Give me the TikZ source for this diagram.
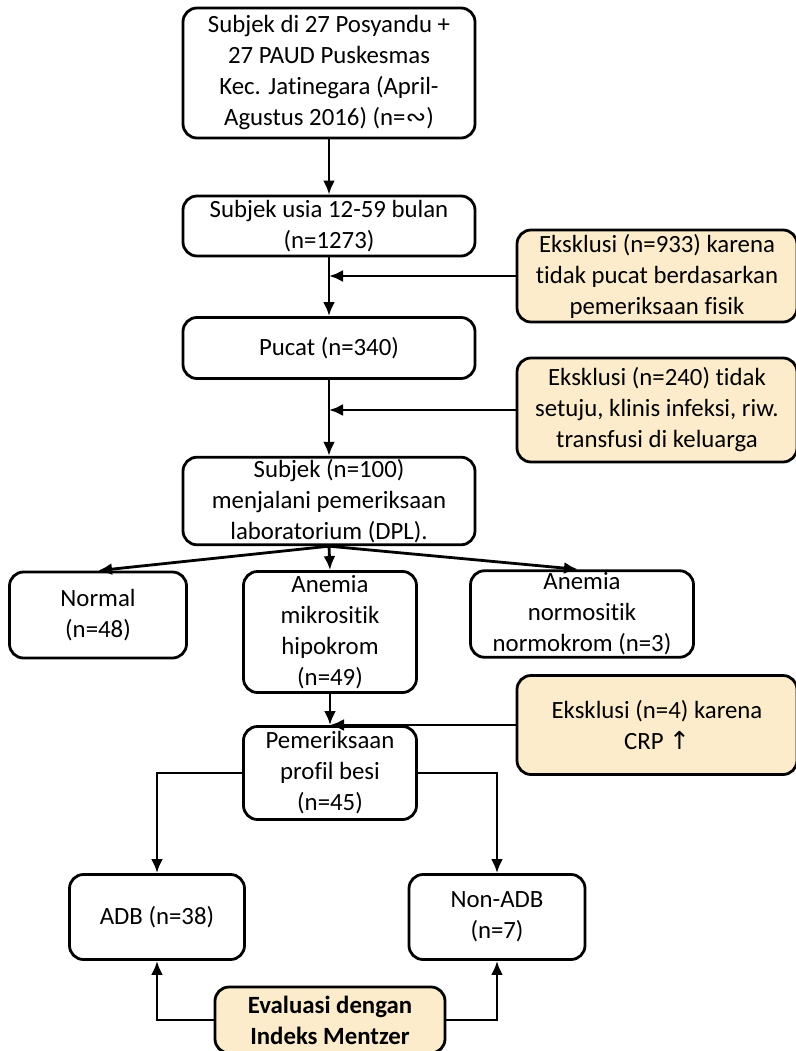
\documentclass[tikz,border=0pt]{standalone}
\usepackage{fontspec}
\setmainfont{Carlito}[Ligatures={NoCommon}]
\newfontfamily\symfont{DejaVu Sans}
\usetikzlibrary{arrows.meta}
\definecolor{beige}{RGB}{253,236,204}
\tikzset{
  box/.style={draw=black, line width=2.8pt, rounded corners=14pt, align=center, inner sep=2pt,
    font=\fontsize{24.8}{31}\selectfont, fill=white},
  exbox/.style={box, fill=beige},
  conn/.style={line width=2.8pt, -{Latex[length=14pt,width=12pt]}},
}
\begin{document}
\begin{tikzpicture}[x=1pt,y=-1pt]
\useasboundingbox (0,0) rectangle (795,1051);
\node[box, minimum width=292pt, minimum height=130pt] (top) at (329,73) {Subjek di 27 Posyandu +\\27 PAUD Puskesmas\\Kec. Jatinegara (April-\\Agustus 2016) (n={\symfont ∾})};
\node[box, minimum width=292pt, minimum height=60pt] (usia) at (329,226) {Subjek usia 12-59 bulan\\(n=1273)};
\node[exbox, minimum width=280pt, minimum height=92pt] (ex1) at (657,276) {Eksklusi (n=933) karena\\tidak pucat berdasarkan\\pemeriksaan fisik};
\node[box, minimum width=292pt, minimum height=61pt] (pucat) at (329,348) {Pucat (n=340)};
\node[exbox, minimum width=280pt, minimum height=104pt] (ex2) at (657,410) {Eksklusi (n=240) tidak\\setuju, klinis infeksi, riw.\\transfusi di keluarga};
\node[box, minimum width=292pt, minimum height=78pt] (s100) at (329,501) {Subjek (n=100)\\menjalani pemeriksaan\\laboratorium (DPL).};
\node[box, minimum width=177pt, minimum height=86pt] (normal) at (98,615) {Normal\\(n=48)};
\node[box, minimum width=173pt, minimum height=121pt] (mikro) at (330,632) {Anemia\\mikrositik\\hipokrom\\(n=49)};
\node[box, minimum width=223pt, minimum height=85pt] (normo) at (582,614) {Anemia\\normositik\\normokrom (n=3)};
\node[exbox, minimum width=280pt, minimum height=99pt] (ex3) at (657,725) {Eksklusi (n=4) karena\\CRP {\symfont ↑}};
\node[box, minimum width=173pt, minimum height=93pt] (besi) at (330,773) {Pemeriksaan\\profil besi\\(n=45)};
\node[box, minimum width=175pt, minimum height=85pt] (adb) at (157,917) {ADB (n=38)};
\node[box, minimum width=176pt, minimum height=85pt] (nonadb) at (497,917) {Non-ADB\\(n=7)};
\node[exbox, minimum width=230pt, minimum height=66pt, font=\bfseries\fontsize{24.8}{31}\selectfont] (eval) at (330,1020) {Evaluasi dengan\\Indeks Mentzer};

\draw[conn] (top.south) -- (usia.north);
\draw[conn] (usia.south) -- (pucat.north);
\coordinate (j1) at (usia.south |- ex1.west);
\draw[conn] (ex1.west) -- (j1);
\draw[conn] (pucat.south) -- (s100.north);
\coordinate (j2) at (pucat.south |- ex2.west);
\draw[conn] (ex2.west) -- (j2);
\draw[conn] (s100.south) -- (normal.north);
\draw[conn] (s100.south) -- (mikro.north);
\draw[conn] (s100.south) -- ([xshift=-4pt]normo.north);
\draw[conn] (mikro.south) -- (besi.north);
\coordinate (j3) at (mikro.south |- ex3.west);
\draw[conn] (ex3.west) -- (j3);
\draw[conn] (besi.west) -| (adb.north);
\draw[conn] (besi.east) -| (nonadb.north);
\draw[conn] (eval.west) -| (adb.south);
\draw[conn] (eval.east) -| (nonadb.south);
\end{tikzpicture}
\end{document}
